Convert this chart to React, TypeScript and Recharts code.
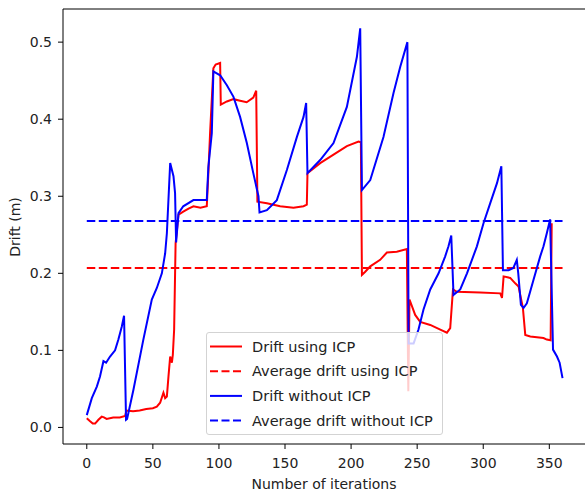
import React from 'react'
import { LineChart, Line, XAxis, YAxis, ReferenceLine, Label } from 'recharts'

interface Point {
  x: number
  y: number
}

// Drift using ICP (red)
const iterIcp = [
  0, 2.5, 4.5, 6.3, 8.8, 11.3, 13, 15, 20, 25, 29, 30, 35, 40, 45, 50, 53, 55.5, 58, 59.3, 60.6,
  61.8, 63.1, 64.4, 65.1, 66.1, 67.2, 69.4, 73, 77, 80.7, 86, 90.8, 92, 93.3, 95.8, 97.5, 100.9,
  101.4, 106, 111, 116, 121, 126, 128.2, 129.1, 136.3, 146.3, 156.4, 164, 166.5, 167, 176.6, 186.7,
  196.8, 205.6, 207.4, 208.2, 210.7, 214.5, 222, 227.1, 234.6, 242.2, 243.3, 244.2, 248.5, 252.3,
  259.9, 267.5, 272.5, 275, 277.1, 280.1, 297.7, 312.9, 314.2, 315.4, 320.4, 324.2, 326.7, 330,
  331.8, 335.6, 345.6, 348.1, 351, 351.8,
]
const driftIcp = [
  0.012, 0.008, 0.005, 0.005, 0.01, 0.014, 0.013, 0.011, 0.013, 0.013, 0.015, 0.022, 0.021, 0.022,
  0.024, 0.025, 0.027, 0.032, 0.045, 0.038, 0.04, 0.066, 0.092, 0.084, 0.094, 0.127, 0.239, 0.276,
  0.28, 0.284, 0.287, 0.285, 0.287, 0.33, 0.382, 0.466, 0.471, 0.473, 0.419, 0.423, 0.426, 0.424,
  0.422, 0.428, 0.437, 0.293, 0.291, 0.287, 0.285, 0.287, 0.289, 0.33, 0.343, 0.354, 0.365, 0.371,
  0.37, 0.198, 0.202, 0.209, 0.2175, 0.227, 0.228, 0.2315, 0.047, 0.166, 0.146, 0.137, 0.133, 0.127,
  0.123, 0.129, 0.179, 0.176, 0.175, 0.174, 0.168, 0.196, 0.194, 0.187, 0.183, 0.155, 0.12, 0.118,
  0.116, 0.114, 0.113, 0.265,
]

// Drift without ICP (blue)
const iterNoIcp = [
  0, 3.8, 7.6, 10, 12.6, 14.6, 17.6, 21.4, 23.9, 26.5, 28.2, 29.7, 30.5, 35.3, 42.8, 49.2, 53, 56.8,
  59.3, 60.6, 63.1, 65.6, 66.8, 67.6, 69.4, 73, 80.7, 90.8, 92, 94.6, 95.8, 100.9, 106, 111, 116,
  121.1, 126, 129.9, 130.7, 136.3, 143.8, 151.4, 159, 164, 166, 167, 176.6, 186.7, 196.8, 204.4,
  206.9, 208.2, 214.5, 224.5, 232.1, 237.2, 242.6, 243.5, 247.3, 251, 254.8, 259.9, 266.2, 271.2,
  273.7, 275.8, 277.5, 282.6, 287.7, 295.2, 300.2, 305.3, 310.4, 313.7, 314.9, 319.2, 322.8, 325.4,
  326.5, 328.5, 330.5, 333, 338.1, 343.1, 345.6, 348.1, 350.6, 352.8, 355.8, 357.8, 360,
]
const driftNoIcp = [
  0.016, 0.038, 0.053, 0.066, 0.086, 0.084, 0.092, 0.1, 0.114, 0.131, 0.145, 0.01, 0.011, 0.049,
  0.114, 0.166, 0.181, 0.2, 0.226, 0.252, 0.343, 0.326, 0.304, 0.24, 0.278, 0.287, 0.295, 0.295,
  0.338, 0.382, 0.462, 0.457, 0.444, 0.429, 0.403, 0.369, 0.33, 0.3, 0.279, 0.282, 0.295, 0.334,
  0.377, 0.403, 0.421, 0.33, 0.347, 0.369, 0.416, 0.481, 0.518, 0.308, 0.321, 0.377, 0.434, 0.468,
  0.5, 0.109, 0.109, 0.127, 0.153, 0.179, 0.2, 0.222, 0.235, 0.249, 0.172, 0.179, 0.2, 0.235, 0.265,
  0.291, 0.317, 0.339, 0.204, 0.204, 0.207, 0.2175, 0.2, 0.159, 0.155, 0.161, 0.192, 0.222, 0.235,
  0.252, 0.27, 0.101, 0.092, 0.084, 0.064,
]

const avgSpan = [0, 360]
const avgIcp = 0.207
const avgNoIcp = 0.268

const xTicks = [0, 50, 100, 150, 200, 250, 300, 350]
const yTicks = [0, 0.1, 0.2, 0.3, 0.4, 0.5]

const legendItems = [
  { label: 'Drift using ICP', color: '#ff0000', dashed: false },
  { label: 'Average drift using ICP', color: '#ff0000', dashed: true },
  { label: 'Drift without ICP', color: '#0000ff', dashed: false },
  { label: 'Average drift without ICP', color: '#0000ff', dashed: true },
]

const zip = (xs: number[], ys: number[]): Point[] => xs.map((x, i) => ({ x, y: ys[i] }))
const flat = (v: number): Point[] => avgSpan.map((x) => ({ x, y: v }))

const FONT = 'DejaVu Sans, sans-serif'
const TEXT = '#222'
const DASH = '8.5 3.5'

const PlotLegend: React.FC = () => (
  <div
    style={{
      position: 'absolute',
      left: 206,
      top: 332,
      width: 237,
      height: 103,
      border: '1px solid #d3d3d3',
      borderRadius: 3,
      background: 'rgba(255,255,255,0.8)',
      boxSizing: 'border-box',
    }}
  >
    <svg width={237} height={103} style={{ position: 'absolute', left: -1, top: -1 }}>
      {legendItems.map((it, i) => {
        const cy = 14.5 + i * 24.7
        return (
          <g key={it.label}>
            <line x1={4} x2={36} y1={cy} y2={cy} stroke={it.color} strokeWidth={2} strokeDasharray={it.dashed ? '8 3.5' : undefined} />
            <text x={46} y={cy} dominantBaseline="central" fontSize={14.5} fontFamily={FONT} fill={TEXT}>
              {it.label}
            </text>
          </g>
        )
      })}
    </svg>
  </div>
)

export default function App() {
  const tickStyle = { fill: TEXT, fontSize: 14, fontFamily: FONT }
  return (
    <div style={{ position: 'absolute', left: 0, top: 0, width: 585, height: 493, background: '#fff' }}>
      <LineChart width={585} height={493} margin={{ top: 9, right: 0, bottom: 0, left: 0 }} style={{ fontFamily: FONT }}>
        <XAxis
          type="number"
          dataKey="x"
          domain={[-18, 377]}
          allowDataOverflow
          ticks={xTicks}
          height={49}
          tick={tickStyle}
          tickSize={5}
          tickMargin={9}
          stroke="#000"
        >
          <Label
            content={() => (
              <text x={324} y={488.5} textAnchor="middle" fontSize={14} fontFamily={FONT} fill={TEXT}>
                Number of iterations
              </text>
            )}
          />
        </XAxis>
        <YAxis
          type="number"
          dataKey="y"
          domain={[-0.0215, 0.543]}
          allowDataOverflow
          ticks={yTicks}
          width={63}
          tick={tickStyle}
          tickSize={5}
          tickMargin={6}
          tickFormatter={(v: number) => v.toFixed(1)}
          stroke="#000"
        >
          <Label
            content={() => (
              <text
                x={15}
                y={227}
                transform="rotate(-90 15 227)"
                textAnchor="middle"
                dominantBaseline="central"
                fontSize={14}
                fontFamily={FONT}
                fill={TEXT}
              >
                Drift (m)
              </text>
            )}
          />
        </YAxis>
        <ReferenceLine y={0.543} stroke="#000" strokeWidth={1} />
        <Line data={zip(iterIcp, driftIcp)} dataKey="y" type="linear" stroke="#ff0000" strokeWidth={2} dot={false} isAnimationActive={false} />
        <Line data={flat(avgIcp)} dataKey="y" type="linear" stroke="#ff0000" strokeWidth={2} strokeDasharray={DASH} dot={false} isAnimationActive={false} />
        <Line data={zip(iterNoIcp, driftNoIcp)} dataKey="y" type="linear" stroke="#0000ff" strokeWidth={2} dot={false} isAnimationActive={false} />
        <Line data={flat(avgNoIcp)} dataKey="y" type="linear" stroke="#0000ff" strokeWidth={2} strokeDasharray={DASH} dot={false} isAnimationActive={false} />
      </LineChart>
      <PlotLegend />
    </div>
  )
}
